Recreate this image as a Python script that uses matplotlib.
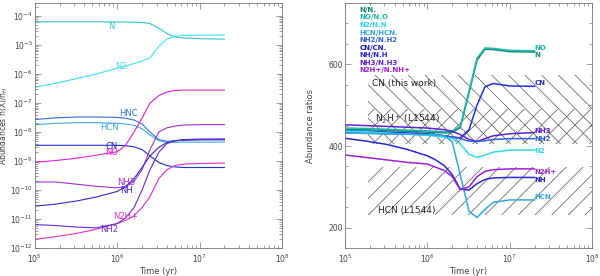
import numpy as np
import matplotlib.pyplot as plt
from matplotlib.ticker import LogLocator, MultipleLocator, NullFormatter

# shared time grid (yr)
time = [1e5, 1.8e5, 3.2e5, 5.6e5, 1e6, 1.26e6, 1.6e6, 2e6, 2.5e6, 3.2e6, 4e6, 5e6, 6.3e6, 1e7, 2e7]

# left panel: abundances
ab_N    = [6.3e-5, 6.3e-5, 6.3e-5, 6.3e-5, 6.2e-5, 6.2e-5, 6.1e-5, 6e-5, 5.5e-5, 3.8e-5, 2.5e-5, 1.9e-5, 1.75e-5, 1.65e-5, 1.6e-5]
ab_N2   = [3.5e-7, 4.8e-7, 7e-7, 1e-6, 1.6e-6, 1.9e-6, 2.3e-6, 2.8e-6, 3.6e-6, 9e-6, 1.6e-5, 2e-5, 2.15e-5, 2.2e-5, 2.2e-5]
ab_HNC  = [2.7e-8, 3.1e-8, 3.3e-8, 3.3e-8, 3.2e-8, 3e-8, 2.6e-8, 1.9e-8, 1e-8, 5.5e-9, 4.8e-9, 5e-9, 5.3e-9, 5.5e-9, 5.5e-9]
ab_HCN  = [1.8e-8, 2e-8, 2.1e-8, 2.1e-8, 2e-8, 1.9e-8, 1.7e-8, 1.3e-8, 8e-9, 5e-9, 4.4e-9, 4.4e-9, 4.5e-9, 4.5e-9, 4.5e-9]
ab_CN   = [3.5e-9, 3.5e-9, 3.5e-9, 3.5e-9, 3.5e-9, 3.4e-9, 3.1e-9, 2.5e-9, 1.5e-9, 9e-10, 7e-10, 6.3e-10, 6e-10, 6e-10, 6e-10]
ab_NO   = [9e-10, 1.05e-9, 1.25e-9, 1.6e-9, 2.1e-9, 3.5e-9, 1e-8, 3e-8, 1e-7, 1.8e-7, 2.4e-7, 2.7e-7, 2.8e-7, 2.8e-7, 2.8e-7]
ab_NH3  = [1.9e-10, 1.9e-10, 1.6e-10, 1.35e-10, 1.2e-10, 1.3e-10, 2e-10, 5e-10, 2.5e-9, 1e-8, 1.4e-8, 1.6e-8, 1.75e-8, 1.8e-8, 1.8e-8]
ab_NH   = [2.8e-11, 3.3e-11, 4.2e-11, 5.8e-11, 9e-11, 1.3e-10, 2.5e-10, 6e-10, 1.5e-9, 3e-9, 4.3e-9, 5e-9, 5.5e-9, 5.7e-9, 5.8e-9]
ab_N2Hp = [2e-12, 2.5e-12, 3.2e-12, 4.5e-12, 7e-12, 9e-12, 1.3e-11, 2.5e-11, 6e-11, 2.5e-10, 5e-10, 7e-10, 7.8e-10, 8.3e-10, 8.5e-10]
ab_NH2  = [6.5e-12, 6e-12, 5.3e-12, 5e-12, 7e-12, 1.1e-11, 2.5e-11, 1e-10, 5e-10, 2e-9, 4e-9, 5e-9, 5.2e-9, 5.4e-9, 5.4e-9]

# right panel: isotopic ratios
r_N    = [441, 440, 438, 436, 434, 433, 432, 433, 445, 530, 610, 637, 636, 631, 630]
r_NO   = [444, 443, 441, 439, 437, 436, 435, 436, 448, 535, 615, 640, 639, 634, 633]
r_CN   = [438, 436, 434, 432, 430, 428, 425, 422, 420, 440, 500, 545, 553, 547, 546]
r_NH3  = [452, 450, 448, 446, 444, 442, 440, 436, 428, 416, 411, 418, 425, 430, 433]
r_NH2  = [432, 431, 430, 429, 428, 427, 425, 422, 418, 412, 411, 413, 416, 418, 418]
r_N2   = [437, 435, 432, 429, 426, 424, 422, 418, 405, 380, 372, 378, 385, 390, 390]
r_HCN  = [432, 431, 430, 429, 428, 427, 425, 410, 330, 240, 225, 245, 262, 268, 268]
r_NH   = [419, 412, 404, 392, 376, 366, 352, 330, 295, 292, 308, 318, 322, 323, 323]
r_N2Hp = [378, 372, 366, 360, 356, 348, 340, 325, 293, 300, 325, 338, 342, 344, 344]

legend_txt = ['N/N.', 'NO/N.O', 'N2/N.N', 'HCN/HCN.', 'NH2/N.H2', 'CN/CN.', 'NH/N.H', 'NH3/N.H3', 'N2H+/N.NH+']
legend_col = ['#10806e', '#20b8a8', '#30d8e8', '#30a8e0', '#3060e0', '#1818b8', '#2828e0', '#6020d8', '#a020e0']

plt.rcParams['hatch.linewidth'] = 0.5
plt.rcParams['font.size'] = 6

fig = plt.figure(figsize=(6, 2.76), dpi=100)
ax1 = fig.add_axes([0.058, 0.101, 0.412, 0.888])
ax2 = fig.add_axes([0.575, 0.101, 0.412, 0.888])

txtc = '#444444'
for ax in (ax1, ax2):
    ax.set_xscale('log')
    ax.set_xlim(1e5, 1e8)
    ax.tick_params(which='both', direction='in', top=True, right=True, colors='#777777',
                   labelcolor=txtc, labelsize=5.5, width=0.5)
    ax.tick_params(axis='y', pad=1.5)
    ax.tick_params(which='major', length=4)
    ax.tick_params(which='minor', length=2)
    for s in ax.spines.values():
        s.set_color('#777777')
        s.set_linewidth(0.6)
    ax.set_xlabel('Time (yr)', color=txtc, fontsize=6)
    ax.xaxis.set_label_coords(0.5, -0.075)
    ax.xaxis.set_minor_locator(LogLocator(base=10, subs=np.arange(2, 10)))
    ax.xaxis.set_minor_formatter(NullFormatter())

# ---- left panel
ax1.set_yscale('log')
ax1.set_ylim(1e-12, 2.8e-4)
ax1.yaxis.set_major_locator(LogLocator(base=10, numticks=20))
ax1.yaxis.set_minor_locator(LogLocator(base=10, subs=np.arange(2, 10), numticks=20))
ax1.yaxis.set_minor_formatter(NullFormatter())
ax1.set_ylabel('Abundances n(X)/n$_H$', color=txtc, fontsize=5.5)
ax1.yaxis.set_label_coords(-0.1, 0.5)

lw = 0.8
left = [
    (ab_N, '#30c0c8', 'N', 8.5e5, 4.2e-5),
    (ab_N2, '#40e0e8', 'N2', 1.1e6, 1.8e-6),
    (ab_HNC, '#3070d8', 'HNC', 1.35e6, 4.4e-8),
    (ab_HCN, '#40a8e0', 'HCN', 8e5, 1.45e-8),
    (ab_CN, '#2030c8', 'CN', 8.5e5, 3.2e-9),
    (ab_NO, '#e020d0', 'NO', 8.5e5, 2e-9),
    (ab_NH3, '#a030d8', 'NH3', 1.3e6, 1.8e-10),
    (ab_NH, '#4020c8', 'NH', 1.3e6, 1e-10),
    (ab_N2Hp, '#e030c8', 'N2H+', 1.25e6, 1.25e-11),
    (ab_NH2, '#6030d0', 'NH2', 8e5, 4.3e-12),
]
for vals, c, lab, tx, ty in left:
    ax1.plot(time, vals, color=c, lw=lw)
    ax1.text(tx, ty, lab, color=c, fontsize=6, ha='center', va='center')

# ---- right panel
ax2.set_ylim(150, 750)
ax2.yaxis.set_major_locator(MultipleLocator(200))
ax2.yaxis.set_minor_locator(MultipleLocator(50))
ax2.set_ylabel('Abundance ratios', color=txtc, fontsize=6)
ax2.yaxis.set_label_coords(-0.12, 0.5)

hc = '#555555'
ax2.fill_between([1.9e5, 1e8], 405, 575, facecolor='none', edgecolor=hc, hatch='\\\\', lw=0)
ax2.fill_between([1.9e5, 1e8], 405, 490, facecolor='none', edgecolor=hc, hatch='//', lw=0)
ax2.fill_between([1.9e5, 1e8], 230, 348, facecolor='none', edgecolor=hc, hatch='//', lw=0)
ax2.text(2.1e5, 554, 'CN (this work)', fontsize=6.5, color='#222222', va='center')
ax2.text(2.3e5, 466, 'N$_2$H$^+$ (L1544)', fontsize=6.5, color='#222222', va='center')
ax2.text(2.5e5, 241, 'HCN (L1544)', fontsize=6.5, color='#222222', va='center')

right = [
    (r_N, '#108a78', 'N', 624),
    (r_NO, '#20b8a8', 'NO', 640),
    (r_CN, '#2030d8', 'CN', 554),
    (r_NH3, '#6020d8', 'NH3', 436),
    (r_NH2, '#3060e0', 'NH2', 417),
    (r_N2, '#30d8e8', 'N2', 388),
    (r_HCN, '#30a8e0', 'HCN', 275),
    (r_NH, '#2828d0', 'NH', 317),
    (r_N2Hp, '#a020e0', 'N2H+', 337),
]
for vals, c, lab, ty in right:
    ax2.plot(time, vals, color=c, lw=1.1)
    ax2.text(2.0e7, ty, lab, color=c, fontsize=5, fontweight='bold', va='center')

for i, (t, c) in enumerate(zip(legend_txt, legend_col)):
    ax2.text(0.06, 0.985 - i * 0.031, t, transform=ax2.transAxes, color=c,
             fontsize=5, fontweight='bold', va='top')

fig.savefig('out.png', dpi=100)
